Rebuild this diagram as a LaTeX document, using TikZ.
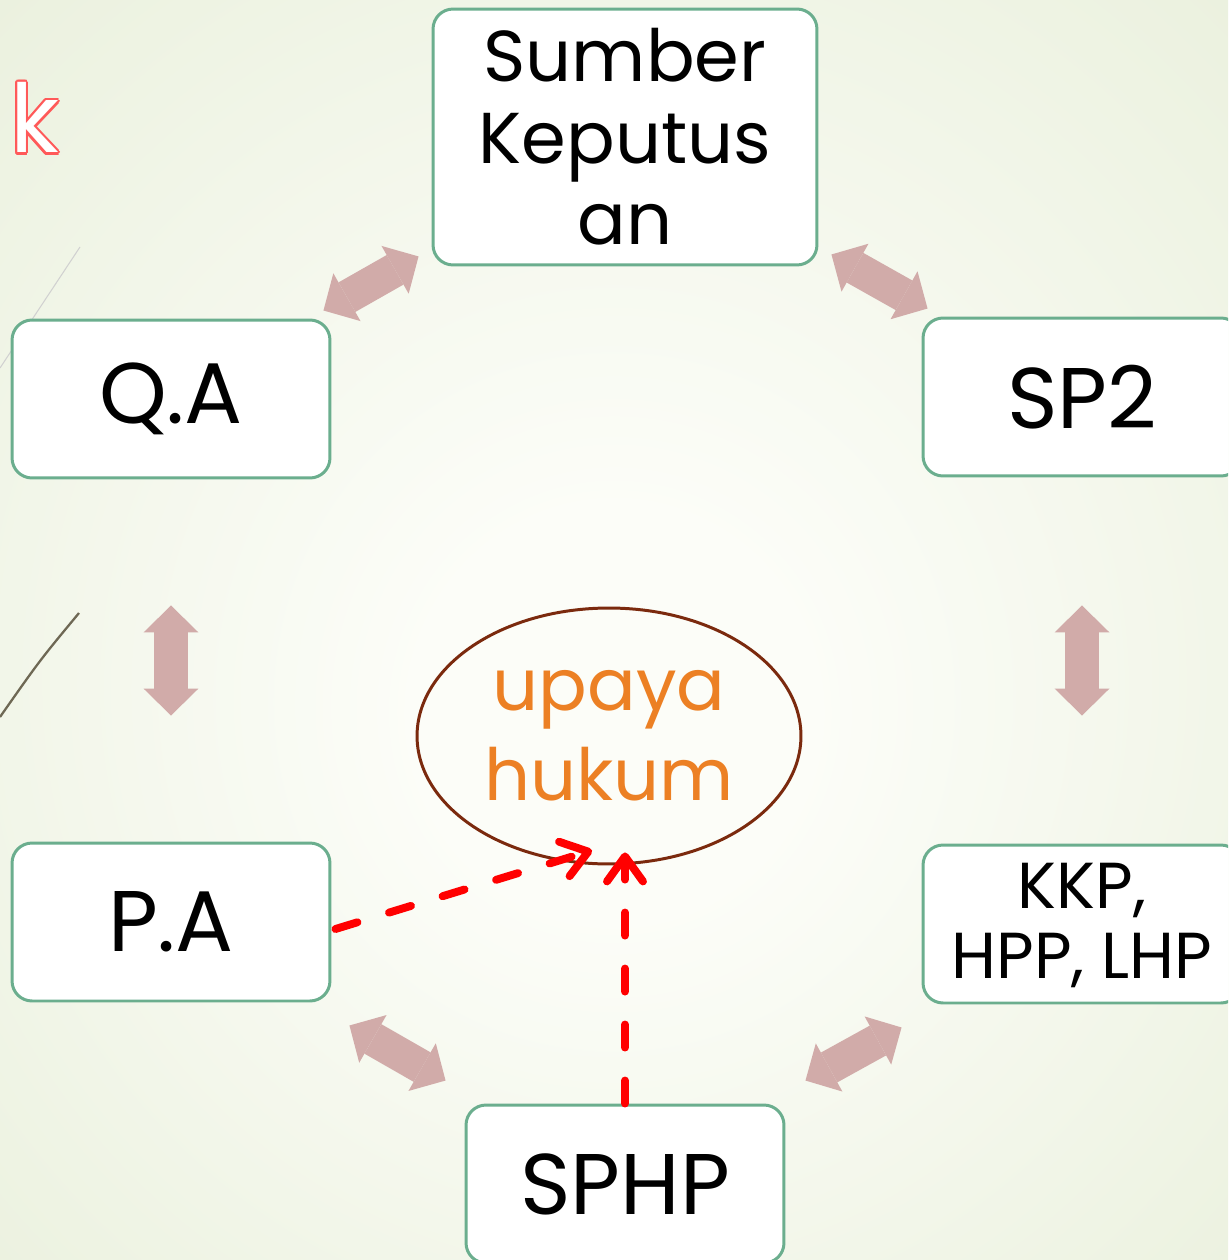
\documentclass[tikz,border=0pt]{standalone}
\usepackage{fontspec}
\setmainfont{Poppins}
\usepackage{contour}
\usetikzlibrary{arrows.meta,calc,shapes.geometric}
\definecolor{bggreen}{RGB}{228,236,212}
\definecolor{bgwhite}{RGB}{252,253,248}
\definecolor{boxline}{RGB}{107,174,142}
\definecolor{pinkarr}{RGB}{209,171,169}
\definecolor{ellline}{RGB}{123,42,14}
\definecolor{hukumorange}{RGB}{236,128,36}
\definecolor{stemline}{RGB}{110,104,84}
\pgfdeclareradialshading{slidebg}{\pgfpoint{0bp}{-4bp}}{color(0bp)=(bgwhite); color(8bp)=(bgwhite); color(48bp)=(bggreen)}
\begin{document}
\begin{tikzpicture}[x=0.02cm, y=-0.02cm,
    box/.style={draw=boxline, line width=1.7pt, fill=white, rounded corners=0.4cm,
      minimum width=6.36cm, minimum height=3.16cm, align=center, inner sep=0pt},
    bigfont/.style={font=\fontsize{49}{55}\selectfont},
    dbl/.style={draw=pinkarr, line width=0.68cm,
      {Triangle[width=1.1cm,length=0.54cm,line width=0pt]}-{Triangle[width=1.1cm,length=0.54cm,line width=0pt]}},
    redarr/.style={draw=red, line width=4.5pt, line cap=round, dash pattern=on 0.46cm off 0.66cm,
      -{Straight Barb[length=0.5cm,width=0.72cm,line cap=round,line join=round]}}]
  \useasboundingbox (0,0) rectangle (1228,1260);
  \shade[shading=slidebg] (0,0) rectangle (1228,1260);
  \clip (0,0) rectangle (1228,1260);

  % stems of the slide theme
  \draw[line width=0.6pt, draw=black!18] (80,247) -- (0,368);
  \draw[line width=1.3pt, draw=stemline] (79,613) .. controls (40,660) .. (0,717);

  \node (ttl) [anchor=base west, inner sep=0pt, text=white, font=\fontsize{54}{60}\selectfont]
    at (10,153) {\contourlength{1.3pt}\contour{red!65}{k}};

  \node (sk) [box, minimum width=7.68cm, minimum height=5.12cm, font=\fontsize{41}{46.3}\selectfont]
    at (625,137) {Sumber\\Keputus\\an};
  \node (qa) [box, bigfont] at (171,399) {Q.A};
  \node (sp2) [box, bigfont] at (1082,397) {SP2};
  \node (pa) [box, bigfont] at (171,922) {P.A};
  \node (kkp) [box, font=\fontsize{37}{39.7}\selectfont] at (1082,924) {\strut KKP,\\HPP, LHP};
  \node (sphp) [box, bigfont] at (625,1184) {SPHP};

  \node (uh) [ellipse, draw=ellline, line width=1.7pt, minimum width=7.68cm, minimum height=5.12cm,
    text=hukumorange, font=\fontsize{41}{51}\selectfont, align=center, inner sep=0pt]
    at (609,736) {upaya\\hukum};

  \draw[dbl] ($(qa.north east)+(-8,-8)$) -- ($(sk.south west)+(-13,-10)$);
  \draw[dbl] ($(sk.south east)+(13,-12)$) -- ($(sp2.north west)+(6,-8)$);
  \draw[dbl] ($(qa.south)+(0,126)$) -- ($(pa.north)+(0,-126)$);
  \draw[dbl] ($(sp2.south)+(0,128)$) -- ($(kkp.north)+(0,-128)$);
  \draw[dbl] ($(pa.south east)+(18,23)$) -- ($(sphp.north west)+(-19,-23)$);
  \draw[dbl] ($(sphp.north east)+(20,-23)$) -- ($(kkp.south west)+(-20,23)$);

  \coordinate (t1) at ($(uh.south)+(-17,-15)$);
  \coordinate (t2) at ($(uh.south)+(16,-13)$);
  \draw[redarr] ($(pa.east)+(4,7)$) -- (t1);
  \draw[redarr] (sphp.north) -- (t2);
\end{tikzpicture}
\end{document}
